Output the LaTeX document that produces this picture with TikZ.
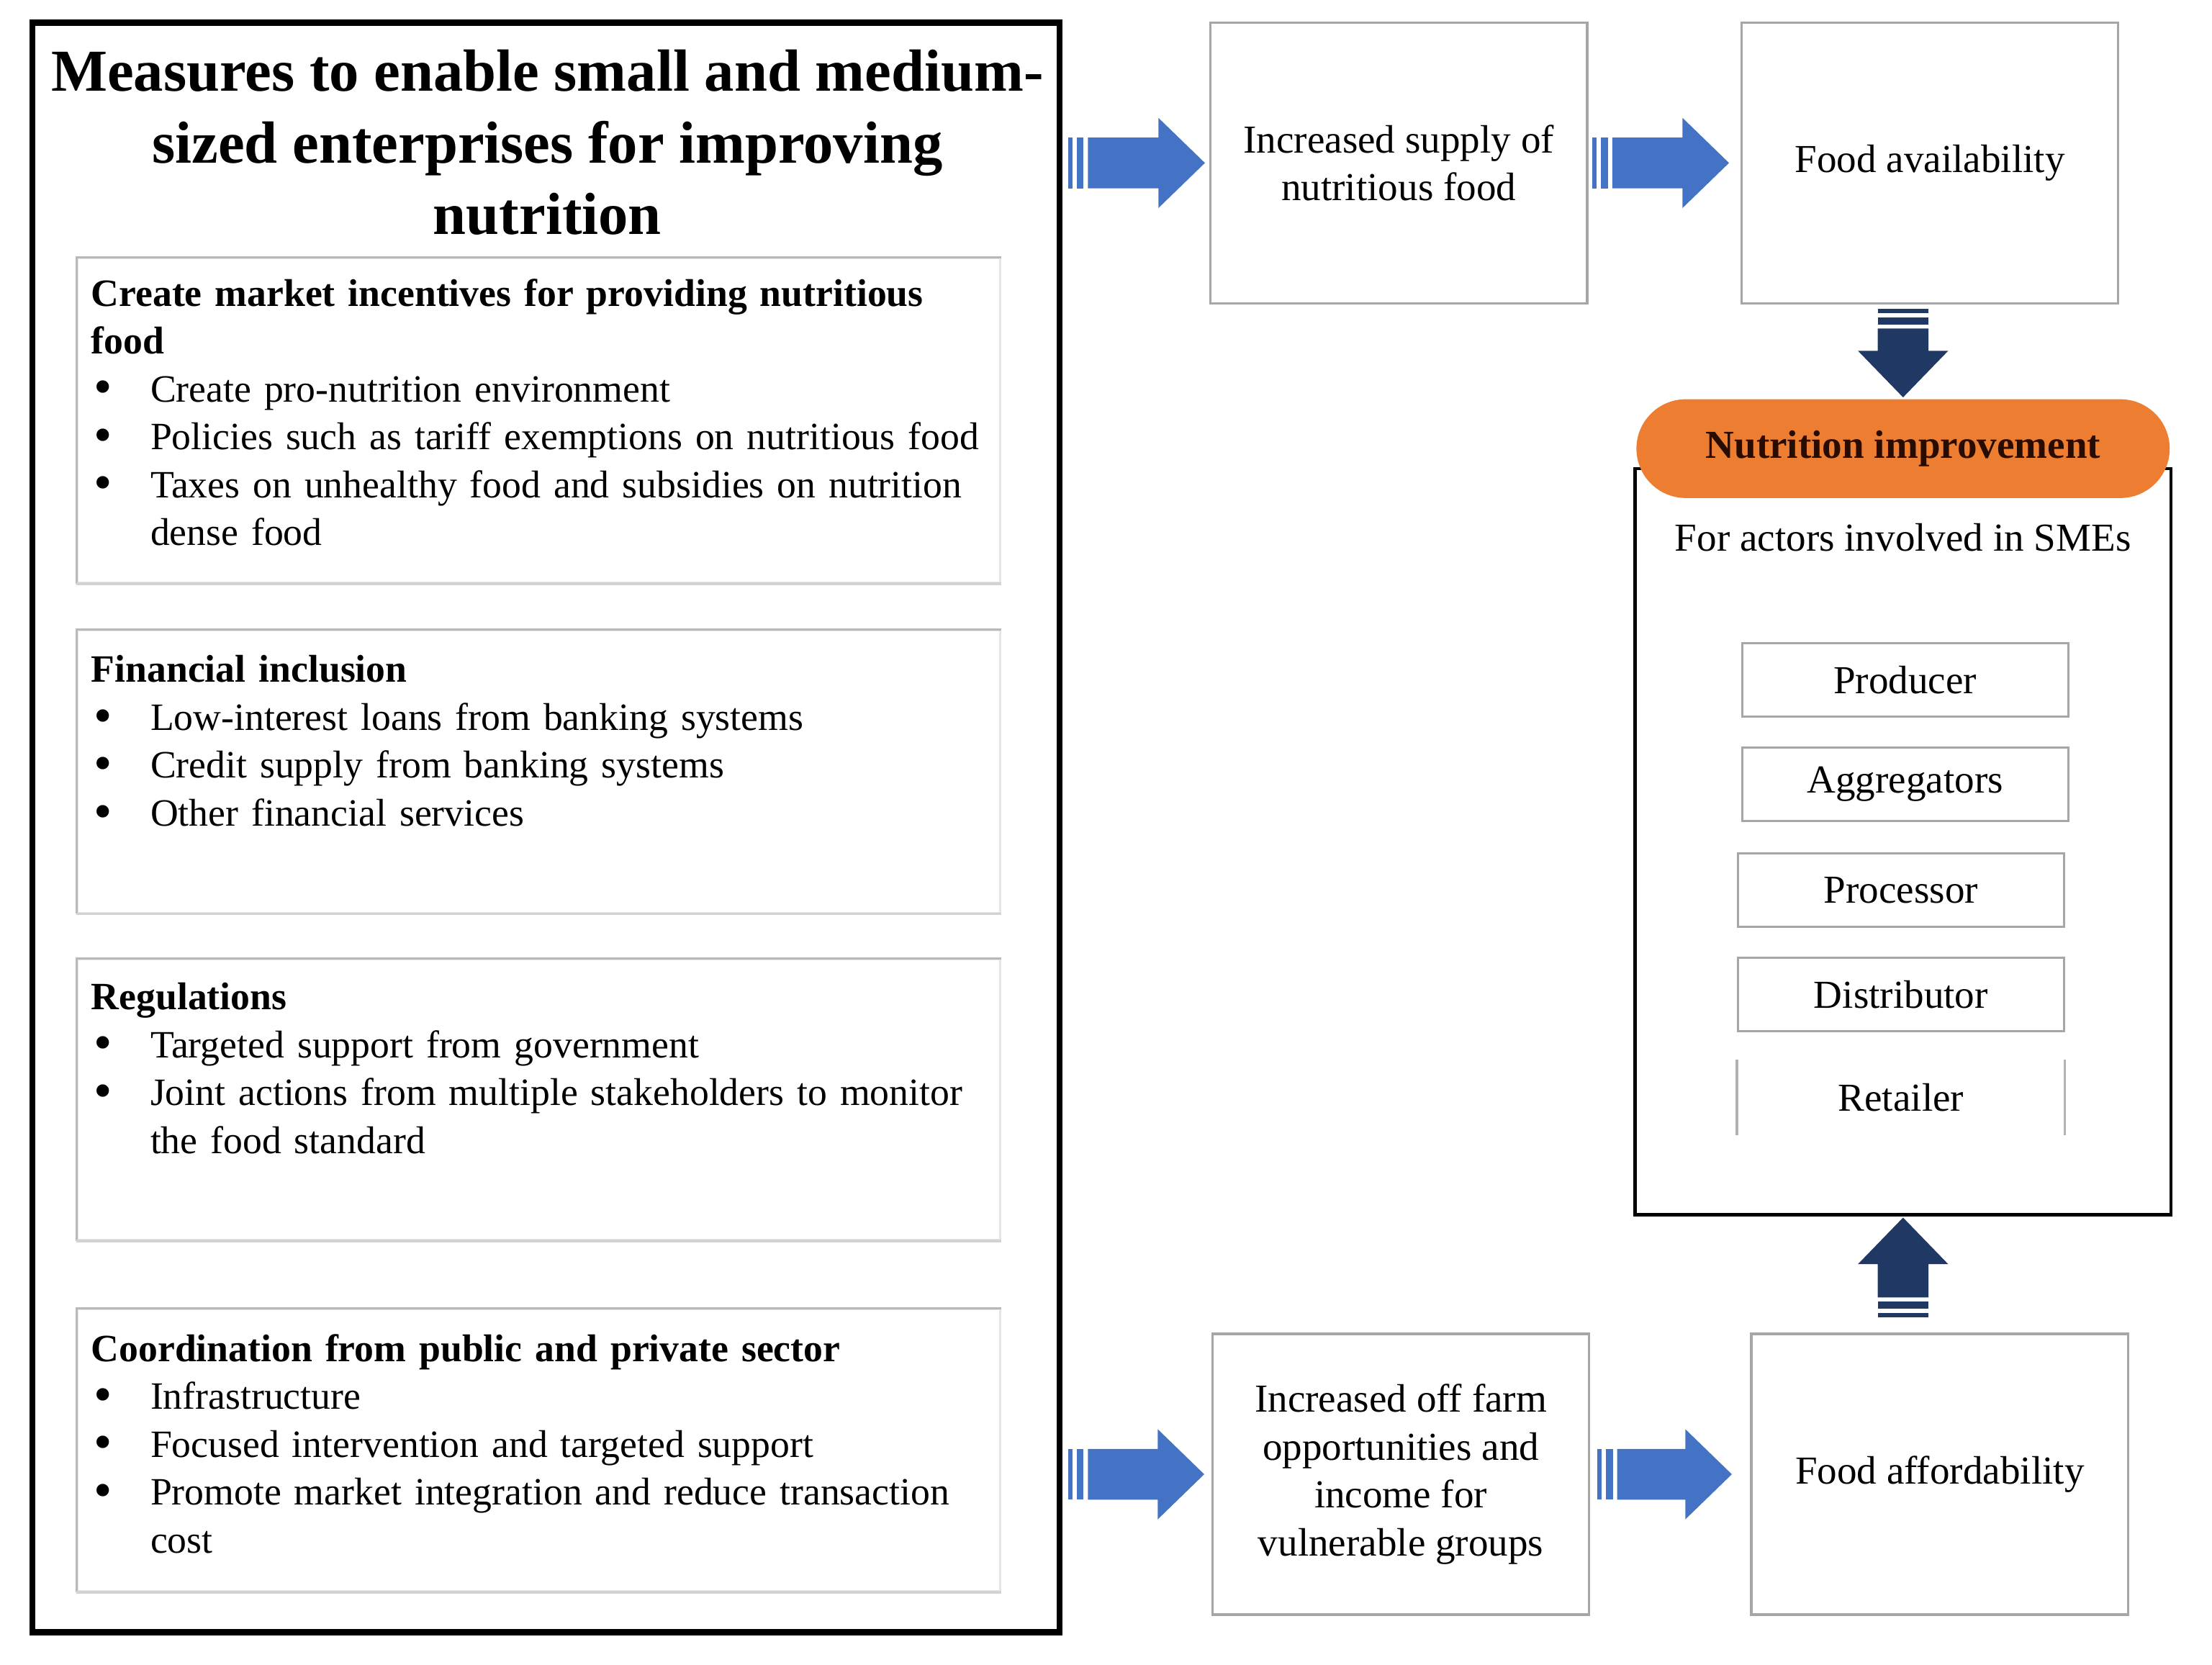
\documentclass[tikz,border=0pt]{standalone}
\usepackage{fontspec}
\setmainfont{Liberation Serif}
\usepackage{graphicx}
\usepackage{tikz}
\usetikzlibrary{
    calc
}
\setlength{\parindent}{0pt}

\definecolor{arrowblue}{RGB}{68,114,196}
\definecolor{arrownavy}{RGB}{31,56,100}
\definecolor{pillorange}{RGB}{237,125,49}
\definecolor{pilltext}{RGB}{40,12,0}

\newcommand{\bodyfont}{\fontsize{16}{19.3}\selectfont}
\newcommand{\listfont}{\fontsize{15.6}{19.3}\selectfont}
\newcommand{\bitem}[1]{\par\noindent\hangindent=8.4mm\makebox[8.4mm][l]{\hspace{0.4mm}\raisebox{-0.07em}{\scalebox{1.35}{\textbullet}}}#1}
\newcommand{\stripedarrow}[3]{%
    \path #2 coordinate (fa-s) #3 coordinate (fa-e);
    \fill[#1] ($(fa-s)!3.6mm!90:(fa-e)$) -- ($(fa-s)!3.6mm!-90:(fa-e)$)
        -- ($(fa-s)!0.6mm!(fa-e)!3.6mm!-90:(fa-e)$) -- ($(fa-s)!0.6mm!(fa-e)!3.6mm!90:(fa-e)$) -- cycle;
    \fill[#1] ($(fa-s)!1.2mm!(fa-e)!3.6mm!90:(fa-e)$) -- ($(fa-s)!1.2mm!(fa-e)!3.6mm!-90:(fa-e)$)
        -- ($(fa-s)!2.2mm!(fa-e)!3.6mm!-90:(fa-e)$) -- ($(fa-s)!2.2mm!(fa-e)!3.6mm!90:(fa-e)$) -- cycle;
    \fill[#1] ($(fa-s)!2.8mm!(fa-e)!3.6mm!90:(fa-e)$)
        -- ($(fa-e)!6.6mm!(fa-s)!3.6mm!-90:(fa-s)$) -- ($(fa-e)!6.6mm!(fa-s)!6.4mm!-90:(fa-s)$)
        -- (fa-e)
        -- ($(fa-e)!6.6mm!(fa-s)!6.4mm!90:(fa-s)$) -- ($(fa-e)!6.6mm!(fa-s)!3.6mm!90:(fa-s)$)
        -- ($(fa-s)!2.8mm!(fa-e)!3.6mm!-90:(fa-e)$) -- cycle;
}

\tikzset{
    outerbox/.style={draw=black, line width=2.4pt, minimum width=145.6mm, minimum height=228.2mm, inner sep=0},
    titletext/.style={align=center, inner sep=0, font=\fontsize{24}{29}\selectfont\bfseries},
    subbox/.style={draw=gray!20, line width=0.8pt, minimum width=130.8mm, inner sep=0},
    subtext/.style={anchor=north west, text width=128mm, inner sep=0, font=\listfont},
    flowbox/.style={draw=gray!70, line width=1pt, minimum width=53.4mm, minimum height=39.8mm, align=center, font=\bodyfont},
    actorframe/.style={draw=black, line width=1.2pt, minimum width=76mm, minimum height=105.8mm, inner sep=0},
    pill/.style={fill=pillorange, rounded corners=7mm, minimum width=75.6mm, minimum height=14mm, text=pilltext, font=\bodyfont\bfseries},
    plaintext/.style={inner sep=0, font=\bodyfont},
    actorbox/.style={draw=gray!70, line width=0.9pt, minimum width=46.2mm, minimum height=10.4mm, font=\bodyfont}
}

\begin{document}
\begin{tikzpicture}[x=0.2mm, y=-0.2mm]
        \useasboundingbox (0,0) rectangle (1568,1180.2);

        \draw (387,586.5) node[outerbox](outer){};
        \draw[line width=1.4pt] ($(outer.north west)+(0,3)$) -- ($(outer.north east)+(0,3)$);
        \draw[line width=1.4pt] ($(outer.south west)+(0,-3)$) -- ($(outer.south east)+(0,-3)$);
        \draw (388,101) node[titletext](title){Measures to enable small and medium-\\sized enterprises for improving\\nutrition};

        \draw (382,298) node[subbox, minimum height=46mm](incent){};
        \draw (382,547) node[subbox, minimum height=40mm](finance){};
        \draw (382,779.5) node[subbox, minimum height=39.8mm](regul){};
        \draw (382,1028) node[subbox, minimum height=40mm](coord){};
        \foreach \b in {incent,finance,regul,coord} {
            \draw[gray!55, line width=0.9pt] (\b.south west) -- (\b.north west) -- (\b.north east);
            \draw[gray!35, line width=1pt] (\b.south west) -- (\b.south east);
        }

        \draw ($(incent.north west)+(10,15)$) node[subtext](incenttext){\raggedright
            \textbf{Create market incentives for providing nutritious\newline food}
            \bitem{Create pro-nutrition environment}
            \bitem{Policies such as tariff exemptions on nutritious food}
            \bitem{Taxes on unhealthy food and subsidies on nutrition\newline dense food}\par};
        \draw ($(finance.north west)+(10,18)$) node[subtext](financetext){\raggedright
            \textbf{Financial inclusion}
            \bitem{Low-interest loans from banking systems}
            \bitem{Credit supply from banking systems}
            \bitem{Other financial services}\par};
        \draw ($(regul.north west)+(10,17)$) node[subtext](regultext){\raggedright
            \textbf{Regulations}
            \bitem{Targeted support from government}
            \bitem{Joint actions from multiple stakeholders to monitor\newline the food standard}\par};
        \draw ($(coord.north west)+(10,18)$) node[subtext](coordtext){\raggedright
            \textbf{Coordination from public and private sector}
            \bitem{Infrastructure}
            \bitem{Focused intervention and targeted support}
            \bitem{Promote market integration and reduce transaction\newline cost}\par};

        \draw (991.5,115.5) node[flowbox](supply){Increased supply of\\nutritious food};
        \draw (1368,115.5) node[flowbox](avail){Food availability};
        \draw (993,1045) node[flowbox](offfarm){Increased off farm\\opportunities and\\income for\\vulnerable groups};
        \draw (1375,1045) node[flowbox](afford){Food affordability};

        \draw (1349,596.5) node[actorframe](actors){};
        \draw (1349,318) node[pill](nutri){\raisebox{-0.1em}{Nutrition improvement}};
        \draw (1349,381) node[plaintext](smes){For actors involved in SMEs};
        \draw (1350.5,482) node[actorbox](producer){Producer};
        \draw (1350.5,556) node[actorbox](aggreg){Aggregators};
        \draw (1347.5,631) node[actorbox](process){Processor};
        \draw (1347.5,705) node[actorbox](distrib){Distributor};
        \draw (1347.5,778) node[actorbox, draw=none](retail){Retailer};
        \draw[gray!60, line width=0.9pt] (retail.north west) -- (retail.south west) (retail.north east) -- (retail.south east);

        \stripedarrow{arrowblue}{($(outer.east |- supply.west)+(4,0)$)}{($(supply.west)+(-3,0)$)}
        \stripedarrow{arrowblue}{($(supply.east)+(3,0)$)}{($(avail.west)+(-8,0)$)}
        \stripedarrow{arrownavy}{($(nutri.north |- avail.south)+(0,3)$)}{($(nutri.north)+(0,-1)$)}
        \stripedarrow{arrownavy}{($(actors.south |- afford.north)+(0,-11)$)}{($(actors.south)+(0,1)$)}
        \stripedarrow{arrowblue}{($(outer.east |- offfarm.west)+(4,0)$)}{($(offfarm.west)+(-5,0)$)}
        \stripedarrow{arrowblue}{($(offfarm.east)+(5,0)$)}{($(afford.west)+(-13,0)$)}
    \end{tikzpicture}
\end{document}
